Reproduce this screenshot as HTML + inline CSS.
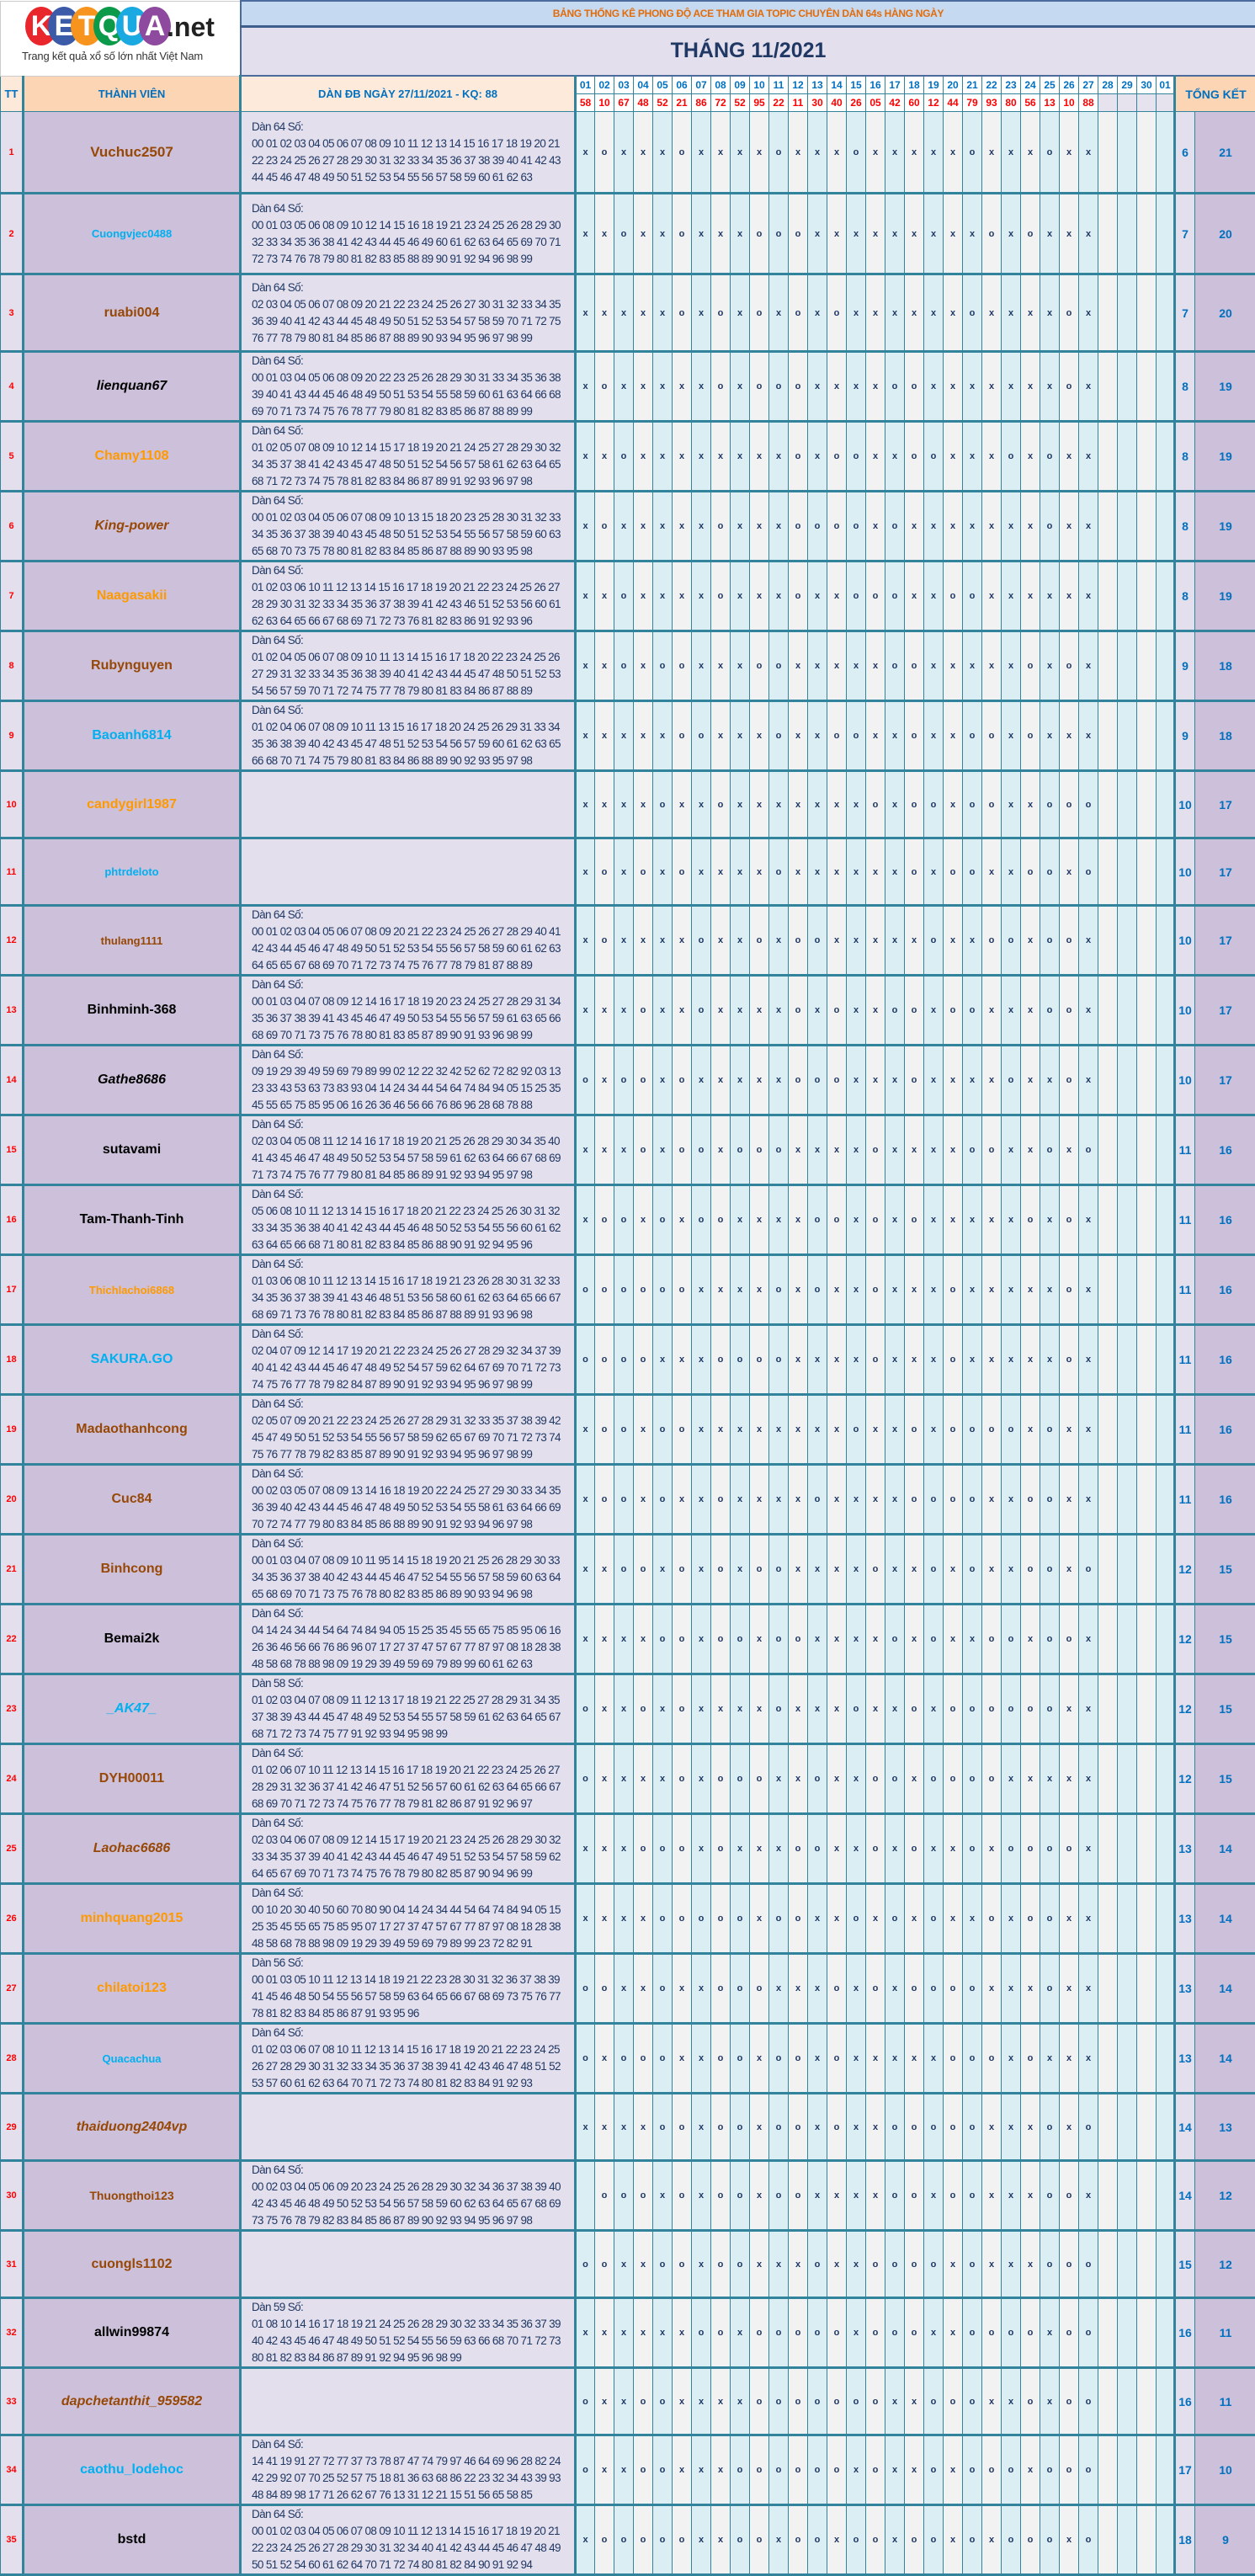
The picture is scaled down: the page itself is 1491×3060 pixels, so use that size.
<!DOCTYPE html>
<html><head><meta charset="utf-8">
<style>
body{margin:0;width:1491px;height:2977px;overflow:hidden;background:#fff;font-family:"Liberation Sans",sans-serif;position:relative}
table{border-collapse:collapse;table-layout:fixed;width:1491px;position:absolute;left:0;top:0}
td{border:1px solid #31849b;padding:0;text-align:center;overflow:hidden;white-space:nowrap;vertical-align:middle}
.top{background:#c5d9f1;color:#e26b0a;font-size:12px;font-weight:bold;letter-spacing:-0.3px;border:2px solid #4a6b9c;border-bottom:3px solid #3e5f8e}
.ttl{background:#e4dfec;color:#1f3864;font-size:25px;font-weight:bold;border:2px solid #4a6b9c;border-top:none}
.logo{background:#fff;border:1px solid #ccc;border-right:2px solid #4a6b9c}
.h{color:#0070c0;font-size:13px;font-weight:bold}
.ht{background:#fde9d9}.hn{background:#fcd5b4}.hd{background:#fdeada}
.dy{background:#fff;color:#0070c0;font-size:12px;font-weight:bold;height:20px}
.kq{background:#fff;color:#f00;font-size:12px;font-weight:bold}
.kq.e{background:#e6e3ee}
.tk{background:#fcd5b4;color:#0070c0;font-size:14px;font-weight:bold;border-left:3px solid #31849b}
tr.r td{border-bottom:3px solid #31849b;font-size:11px;font-weight:bold;color:#1f3864}
tr.r td:nth-child(even){background:#daeef3}
tr.r td:nth-child(odd){background:#f2f2f2}
tr.r td.t{background:#e4dfec;color:#f00;font-size:11px}
tr.r td.n{background:#ccc0da;border-left:3px solid #31849b;font-size:16px;font-weight:bold}
tr.r td.dn{background:#e4dfec;border-left:3px solid #31849b;text-align:left;padding-left:12px;font-size:13.5px;font-weight:normal;letter-spacing:-0.65px;line-height:20px;color:#1f3864}
tr.r td.f{border-left:3px solid #31849b}
tr.r td.a{background:#e4dfec;color:#0070c0;font-size:14px;border-left:3px solid #31849b}
tr.r td.b{background:#ccc0da;color:#0070c0;font-size:14px}
tr.r td.br{color:#974806}tr.r td.or{color:#ff9900}tr.r td.bl{color:#00b0f0}tr.r td.bk{color:#000}tr.r td.i{font-style:italic}
tr.r td.s13{font-size:13px}tr.r td.s14{font-size:14px}tr.r td.s17{font-size:17px}
.lg{position:absolute;left:0;top:0;width:285px;height:89px}
.c{position:absolute;top:8px;width:38px;height:46px;border-radius:50%;color:#fff;font-size:34px;font-weight:bold;text-align:center;line-height:46px}
</style></head><body>
<table>
<colgroup><col style="width:27px"><col style="width:258px"><col style="width:398px">
<col style="width:23px"><col style="width:23px"><col style="width:23px"><col style="width:23px"><col style="width:23px"><col style="width:23px"><col style="width:23px"><col style="width:23px"><col style="width:23px"><col style="width:23px"><col style="width:23px"><col style="width:23px"><col style="width:23px"><col style="width:23px"><col style="width:23px"><col style="width:23px"><col style="width:23px"><col style="width:23px"><col style="width:23px"><col style="width:23px"><col style="width:23px"><col style="width:23px"><col style="width:23px"><col style="width:23px"><col style="width:23px"><col style="width:23px"><col style="width:23px"><col style="width:23px"><col style="width:23px"><col style="width:23px"><col style="width:22px">
<col style="width:24px"><col style="width:73px"></colgroup>
<tr style="height:30px"><td class="logo" colspan="2" rowspan="2"></td><td class="top" colspan="34">BẢNG THỐNG KÊ PHONG ĐỘ ACE THAM GIA TOPIC CHUYÊN DÀN 64s HÀNG NGÀY</td></tr>
<tr style="height:59px"><td class="ttl" colspan="34">THÁNG 11/2021</td></tr>
<tr><td class="h ht" rowspan="2">TT</td><td class="h hn" rowspan="2" style="border-left:3px solid #31849b">THÀNH VIÊN</td><td class="h hd" rowspan="2" style="border-left:3px solid #31849b">DÀN ĐB NGÀY 27/11/2021 - KQ: 88</td>
<td class="dy" style="border-left:3px solid #31849b">01</td><td class="dy">02</td><td class="dy">03</td><td class="dy">04</td><td class="dy">05</td><td class="dy">06</td><td class="dy">07</td><td class="dy">08</td><td class="dy">09</td><td class="dy">10</td><td class="dy">11</td><td class="dy">12</td><td class="dy">13</td><td class="dy">14</td><td class="dy">15</td><td class="dy">16</td><td class="dy">17</td><td class="dy">18</td><td class="dy">19</td><td class="dy">20</td><td class="dy">21</td><td class="dy">22</td><td class="dy">23</td><td class="dy">24</td><td class="dy">25</td><td class="dy">26</td><td class="dy">27</td><td class="dy">28</td><td class="dy">29</td><td class="dy">30</td><td class="dy">01</td>
<td class="tk" colspan="2" rowspan="2">TỔNG KẾT</td></tr>
<tr style="height:21px"><td class="kq" style="border-left:3px solid #31849b">58</td><td class="kq">10</td><td class="kq">67</td><td class="kq">48</td><td class="kq">52</td><td class="kq">21</td><td class="kq">86</td><td class="kq">72</td><td class="kq">52</td><td class="kq">95</td><td class="kq">22</td><td class="kq">11</td><td class="kq">30</td><td class="kq">40</td><td class="kq">26</td><td class="kq">05</td><td class="kq">42</td><td class="kq">60</td><td class="kq">12</td><td class="kq">44</td><td class="kq">79</td><td class="kq">93</td><td class="kq">80</td><td class="kq">56</td><td class="kq">13</td><td class="kq">10</td><td class="kq">88</td><td class="kq e"></td><td class="kq e"></td><td class="kq e"></td><td class="kq e"></td></tr>

<tr class="r" style="height:97px"><td class="t">1<td class="n br s17">Vuchuc2507<td class="dn">Dàn 64 Số:<br>00 01 02 03 04 05 06 07 08 09 10 11 12 13 14 15 16 17 18 19 20 21<br>22 23 24 25 26 27 28 29 30 31 32 33 34 35 36 37 38 39 40 41 42 43<br>44 45 46 47 48 49 50 51 52 53 54 55 56 57 58 59 60 61 62 63<td class="f">x<td>o<td>x<td>x<td>x<td>o<td>x<td>x<td>x<td>x<td>o<td>x<td>x<td>x<td>o<td>x<td>x<td>x<td>x<td>x<td>o<td>x<td>x<td>x<td>o<td>x<td>x<td><td><td><td><td class="a">6<td class="b">21</tr>
<tr class="r" style="height:96px"><td class="t">2<td class="n bl s13">Cuongvjec0488<td class="dn">Dàn 64 Số:<br>00 01 03 05 06 08 09 10 12 14 15 16 18 19 21 23 24 25 26 28 29 30<br>32 33 34 35 36 38 41 42 43 44 45 46 49 60 61 62 63 64 65 69 70 71<br>72 73 74 76 78 79 80 81 82 83 85 88 89 90 91 92 94 96 98 99<td class="f">x<td>x<td>o<td>x<td>x<td>o<td>x<td>x<td>x<td>o<td>o<td>o<td>x<td>x<td>x<td>x<td>x<td>x<td>x<td>x<td>x<td>o<td>x<td>o<td>x<td>x<td>x<td><td><td><td><td class="a">7<td class="b">20</tr>
<tr class="r" style="height:92px"><td class="t">3<td class="n br">ruabi004<td class="dn">Dàn 64 Số:<br>02 03 04 05 06 07 08 09 20 21 22 23 24 25 26 27 30 31 32 33 34 35<br>36 39 40 41 42 43 44 45 48 49 50 51 52 53 54 57 58 59 70 71 72 75<br>76 77 78 79 80 81 84 85 86 87 88 89 90 93 94 95 96 97 98 99<td class="f">x<td>x<td>x<td>x<td>x<td>o<td>x<td>o<td>x<td>o<td>x<td>o<td>x<td>o<td>x<td>x<td>x<td>x<td>x<td>x<td>o<td>x<td>x<td>x<td>x<td>o<td>x<td><td><td><td><td class="a">7<td class="b">20</tr>
<tr class="r" style="height:80px"><td class="t">4<td class="n bk i">lienquan67<td class="dn">Dàn 64 Số:<br>00 01 03 04 05 06 08 09 20 22 23 25 26 28 29 30 31 33 34 35 36 38<br>39 40 41 43 44 45 46 48 49 50 51 53 54 55 58 59 60 61 63 64 66 68<br>69 70 71 73 74 75 76 78 77 79 80 81 82 83 85 86 87 88 89 99<td class="f">x<td>o<td>x<td>x<td>x<td>x<td>x<td>o<td>x<td>o<td>o<td>o<td>x<td>x<td>x<td>x<td>o<td>o<td>x<td>x<td>x<td>x<td>x<td>x<td>x<td>o<td>x<td><td><td><td><td class="a">8<td class="b">19</tr>
<tr class="r" style="height:80px"><td class="t">5<td class="n or">Chamy1108<td class="dn">Dàn 64 Số:<br>01 02 05 07 08 09 10 12 14 15 17 18 19 20 21 24 25 27 28 29 30 32<br>34 35 37 38 41 42 43 45 47 48 50 51 52 54 56 57 58 61 62 63 64 65<br>68 71 72 73 74 75 78 81 82 83 84 86 87 89 91 92 93 96 97 98<td class="f">x<td>x<td>o<td>x<td>x<td>x<td>x<td>x<td>x<td>x<td>x<td>o<td>x<td>o<td>o<td>x<td>x<td>o<td>o<td>x<td>x<td>x<td>o<td>x<td>o<td>x<td>x<td><td><td><td><td class="a">8<td class="b">19</tr>
<tr class="r" style="height:80px"><td class="t">6<td class="n br i">King-power<td class="dn">Dàn 64 Số:<br>00 01 02 03 04 05 06 07 08 09 10 13 15 18 20 23 25 28 30 31 32 33<br>34 35 36 37 38 39 40 43 45 48 50 51 52 53 54 55 56 57 58 59 60 63<br>65 68 70 73 75 78 80 81 82 83 84 85 86 87 88 89 90 93 95 98<td class="f">x<td>o<td>x<td>x<td>x<td>x<td>x<td>o<td>x<td>x<td>x<td>o<td>o<td>o<td>o<td>x<td>o<td>x<td>x<td>x<td>x<td>x<td>x<td>x<td>o<td>x<td>x<td><td><td><td><td class="a">8<td class="b">19</tr>
<tr class="r" style="height:80px"><td class="t">7<td class="n or">Naagasakii<td class="dn">Dàn 64 Số:<br>01 02 03 06 10 11 12 13 14 15 16 17 18 19 20 21 22 23 24 25 26 27<br>28 29 30 31 32 33 34 35 36 37 38 39 41 42 43 46 51 52 53 56 60 61<br>62 63 64 65 66 67 68 69 71 72 73 76 81 82 83 86 91 92 93 96<td class="f">x<td>x<td>o<td>x<td>x<td>x<td>x<td>o<td>x<td>x<td>x<td>o<td>x<td>x<td>o<td>o<td>o<td>x<td>x<td>o<td>o<td>x<td>x<td>x<td>x<td>x<td>x<td><td><td><td><td class="a">8<td class="b">19</tr>
<tr class="r" style="height:80px"><td class="t">8<td class="n br">Rubynguyen<td class="dn">Dàn 64 Số:<br>01 02 04 05 06 07 08 09 10 11 13 14 15 16 17 18 20 22 23 24 25 26<br>27 29 31 32 33 34 35 36 38 39 40 41 42 43 44 45 47 48 50 51 52 53<br>54 56 57 59 70 71 72 74 75 77 78 79 80 81 83 84 86 87 88 89<td class="f">x<td>x<td>o<td>x<td>o<td>o<td>x<td>x<td>x<td>o<td>o<td>x<td>x<td>x<td>x<td>x<td>o<td>o<td>x<td>x<td>x<td>x<td>x<td>o<td>x<td>o<td>x<td><td><td><td><td class="a">9<td class="b">18</tr>
<tr class="r" style="height:80px"><td class="t">9<td class="n bl">Baoanh6814<td class="dn">Dàn 64 Số:<br>01 02 04 06 07 08 09 10 11 13 15 16 17 18 20 24 25 26 29 31 33 34<br>35 36 38 39 40 42 43 45 47 48 51 52 53 54 56 57 59 60 61 62 63 65<br>66 68 70 71 74 75 79 80 81 83 84 86 88 89 90 92 93 95 97 98<td class="f">x<td>x<td>x<td>x<td>x<td>o<td>o<td>x<td>x<td>x<td>o<td>x<td>x<td>o<td>o<td>x<td>x<td>o<td>x<td>x<td>o<td>o<td>x<td>o<td>x<td>x<td>x<td><td><td><td><td class="a">9<td class="b">18</tr>
<tr class="r" style="height:80px"><td class="t">10<td class="n or">candygirl1987<td class="dn"><td class="f">x<td>x<td>x<td>x<td>o<td>x<td>x<td>o<td>x<td>x<td>x<td>x<td>x<td>x<td>x<td>o<td>x<td>o<td>o<td>x<td>o<td>o<td>x<td>x<td>o<td>o<td>o<td><td><td><td><td class="a">10<td class="b">17</tr>
<tr class="r" style="height:80px"><td class="t">11<td class="n bl s13">phtrdeloto<td class="dn"><td class="f">x<td>o<td>x<td>o<td>x<td>o<td>x<td>x<td>x<td>x<td>o<td>x<td>x<td>x<td>x<td>x<td>x<td>o<td>x<td>o<td>o<td>x<td>x<td>o<td>o<td>x<td>o<td><td><td><td><td class="a">10<td class="b">17</tr>
<tr class="r" style="height:80px"><td class="t">12<td class="n br s13">thulang1111<td class="dn">Dàn 64 Số:<br>00 01 02 03 04 05 06 07 08 09 20 21 22 23 24 25 26 27 28 29 40 41<br>42 43 44 45 46 47 48 49 50 51 52 53 54 55 56 57 58 59 60 61 62 63<br>64 65 65 67 68 69 70 71 72 73 74 75 76 77 78 79 81 87 88 89<td class="f">x<td>o<td>x<td>x<td>x<td>x<td>o<td>x<td>x<td>o<td>x<td>o<td>o<td>x<td>x<td>x<td>x<td>x<td>o<td>x<td>x<td>o<td>o<td>x<td>o<td>o<td>x<td><td><td><td><td class="a">10<td class="b">17</tr>
<tr class="r" style="height:80px"><td class="t">13<td class="n bk">Binhminh-368<td class="dn">Dàn 64 Số:<br>00 01 03 04 07 08 09 12 14 16 17 18 19 20 23 24 25 27 28 29 31 34<br>35 36 37 38 39 41 43 45 46 47 49 50 53 54 55 56 57 59 61 63 65 66<br>68 69 70 71 73 75 76 78 80 81 83 85 87 89 90 91 93 96 98 99<td class="f">x<td>x<td>x<td>o<td>x<td>x<td>o<td>x<td>x<td>x<td>x<td>o<td>x<td>o<td>x<td>x<td>o<td>o<td>x<td>o<td>o<td>x<td>x<td>x<td>o<td>o<td>x<td><td><td><td><td class="a">10<td class="b">17</tr>
<tr class="r" style="height:80px"><td class="t">14<td class="n bk i">Gathe8686<td class="dn">Dàn 64 Số:<br>09 19 29 39 49 59 69 79 89 99 02 12 22 32 42 52 62 72 82 92 03 13<br>23 33 43 53 63 73 83 93 04 14 24 34 44 54 64 74 84 94 05 15 25 35<br>45 55 65 75 85 95 06 16 26 36 46 56 66 76 86 96 28 68 78 88<td class="f">o<td>x<td>o<td>o<td>x<td>o<td>x<td>x<td>x<td>x<td>x<td>o<td>o<td>o<td>x<td>x<td>x<td>o<td>x<td>x<td>x<td>x<td>o<td>x<td>x<td>o<td>x<td><td><td><td><td class="a">10<td class="b">17</tr>
<tr class="r" style="height:80px"><td class="t">15<td class="n bk">sutavami<td class="dn">Dàn 64 Số:<br>02 03 04 05 08 11 12 14 16 17 18 19 20 21 25 26 28 29 30 34 35 40<br>41 43 45 46 47 48 49 50 52 53 54 57 58 59 61 62 63 64 66 67 68 69<br>71 73 74 75 76 77 79 80 81 84 85 86 89 91 92 93 94 95 97 98<td class="f">x<td>x<td>x<td>o<td>x<td>o<td>o<td>x<td>o<td>o<td>o<td>x<td>x<td>x<td>x<td>o<td>x<td>x<td>x<td>x<td>o<td>o<td>x<td>x<td>o<td>x<td>o<td><td><td><td><td class="a">11<td class="b">16</tr>
<tr class="r" style="height:80px"><td class="t">16<td class="n bk">Tam-Thanh-Tinh<td class="dn">Dàn 64 Số:<br>05 06 08 10 11 12 13 14 15 16 17 18 20 21 22 23 24 25 26 30 31 32<br>33 34 35 36 38 40 41 42 43 44 45 46 48 50 52 53 54 55 56 60 61 62<br>63 64 65 66 68 71 80 81 82 83 84 85 86 88 90 91 92 94 95 96<td class="f">x<td>o<td>o<td>x<td>o<td>x<td>o<td>o<td>x<td>x<td>x<td>x<td>o<td>o<td>x<td>o<td>x<td>o<td>x<td>x<td>x<td>x<td>x<td>o<td>x<td>o<td>x<td><td><td><td><td class="a">11<td class="b">16</tr>
<tr class="r" style="height:80px"><td class="t">17<td class="n or s13">Thichlachoi6868<td class="dn">Dàn 64 Số:<br>01 03 06 08 10 11 12 13 14 15 16 17 18 19 21 23 26 28 30 31 32 33<br>34 35 36 37 38 39 41 43 46 48 51 53 56 58 60 61 62 63 64 65 66 67<br>68 69 71 73 76 78 80 81 82 83 84 85 86 87 88 89 91 93 96 98<td class="f">o<td>o<td>o<td>o<td>o<td>o<td>x<td>x<td>x<td>x<td>o<td>x<td>o<td>x<td>x<td>o<td>x<td>x<td>x<td>o<td>x<td>x<td>x<td>x<td>x<td>o<td>x<td><td><td><td><td class="a">11<td class="b">16</tr>
<tr class="r" style="height:80px"><td class="t">18<td class="n bl">SAKURA.GO<td class="dn">Dàn 64 Số:<br>02 04 07 09 12 14 17 19 20 21 22 23 24 25 26 27 28 29 32 34 37 39<br>40 41 42 43 44 45 46 47 48 49 52 54 57 59 62 64 67 69 70 71 72 73<br>74 75 76 77 78 79 82 84 87 89 90 91 92 93 94 95 96 97 98 99<td class="f">o<td>o<td>o<td>o<td>x<td>x<td>x<td>o<td>o<td>o<td>o<td>x<td>x<td>x<td>x<td>o<td>x<td>x<td>x<td>o<td>x<td>x<td>x<td>x<td>x<td>o<td>x<td><td><td><td><td class="a">11<td class="b">16</tr>
<tr class="r" style="height:80px"><td class="t">19<td class="n br">Madaothanhcong<td class="dn">Dàn 64 Số:<br>02 05 07 09 20 21 22 23 24 25 26 27 28 29 31 32 33 35 37 38 39 42<br>45 47 49 50 51 52 53 54 55 56 57 58 59 62 65 67 69 70 71 72 73 74<br>75 76 77 78 79 82 83 85 87 89 90 91 92 93 94 95 96 97 98 99<td class="f">x<td>o<td>o<td>x<td>o<td>o<td>x<td>x<td>x<td>x<td>x<td>x<td>x<td>x<td>o<td>x<td>x<td>o<td>x<td>o<td>o<td>o<td>o<td>x<td>o<td>x<td>x<td><td><td><td><td class="a">11<td class="b">16</tr>
<tr class="r" style="height:80px"><td class="t">20<td class="n br">Cuc84<td class="dn">Dàn 64 Số:<br>00 02 03 05 07 08 09 13 14 16 18 19 20 22 24 25 27 29 30 33 34 35<br>36 39 40 42 43 44 45 46 47 48 49 50 52 53 54 55 58 61 63 64 66 69<br>70 72 74 77 79 80 83 84 85 86 88 89 90 91 92 93 94 96 97 98<td class="f">x<td>o<td>o<td>x<td>o<td>x<td>x<td>o<td>x<td>x<td>x<td>x<td>o<td>x<td>x<td>x<td>x<td>o<td>o<td>o<td>o<td>x<td>x<td>o<td>o<td>x<td>x<td><td><td><td><td class="a">11<td class="b">16</tr>
<tr class="r" style="height:80px"><td class="t">21<td class="n br">Binhcong<td class="dn">Dàn 64 Số:<br>00 01 03 04 07 08 09 10 11 95 14 15 18 19 20 21 25 26 28 29 30 33<br>34 35 36 37 38 40 42 43 44 45 46 47 52 54 55 56 57 58 59 60 63 64<br>65 68 69 70 71 73 75 76 78 80 82 83 85 86 89 90 93 94 96 98<td class="f">x<td>x<td>o<td>o<td>x<td>o<td>x<td>o<td>x<td>o<td>o<td>x<td>x<td>x<td>x<td>o<td>x<td>x<td>o<td>x<td>o<td>x<td>x<td>o<td>o<td>x<td>o<td><td><td><td><td class="a">12<td class="b">15</tr>
<tr class="r" style="height:80px"><td class="t">22<td class="n bk">Bemai2k<td class="dn">Dàn 64 Số:<br>04 14 24 34 44 54 64 74 84 94 05 15 25 35 45 55 65 75 85 95 06 16<br>26 36 46 56 66 76 86 96 07 17 27 37 47 57 67 77 87 97 08 18 28 38<br>48 58 68 78 88 98 09 19 29 39 49 59 69 79 89 99 60 61 62 63<td class="f">x<td>x<td>x<td>x<td>o<td>o<td>x<td>o<td>o<td>x<td>o<td>o<td>x<td>x<td>x<td>x<td>o<td>x<td>o<td>x<td>x<td>o<td>o<td>x<td>o<td>o<td>x<td><td><td><td><td class="a">12<td class="b">15</tr>
<tr class="r" style="height:80px"><td class="t">23<td class="n bl i">_AK47_<td class="dn">Dàn 58 Số:<br>01 02 03 04 07 08 09 11 12 13 17 18 19 21 22 25 27 28 29 31 34 35<br>37 38 39 43 44 45 47 48 49 52 53 54 55 57 58 59 61 62 63 64 65 67<br>68 71 72 73 74 75 77 91 92 93 94 95 98 99<td class="f">o<td>x<td>x<td>o<td>x<td>o<td>x<td>x<td>x<td>x<td>o<td>x<td>x<td>x<td>o<td>x<td>x<td>o<td>x<td>o<td>o<td>o<td>o<td>o<td>o<td>x<td>x<td><td><td><td><td class="a">12<td class="b">15</tr>
<tr class="r" style="height:80px"><td class="t">24<td class="n br">DYH00011<td class="dn">Dàn 64 Số:<br>01 02 06 07 10 11 12 13 14 15 16 17 18 19 20 21 22 23 24 25 26 27<br>28 29 31 32 36 37 41 42 46 47 51 52 56 57 60 61 62 63 64 65 66 67<br>68 69 70 71 72 73 74 75 76 77 78 79 81 82 86 87 91 92 96 97<td class="f">o<td>x<td>x<td>x<td>x<td>o<td>x<td>o<td>o<td>o<td>x<td>x<td>o<td>x<td>x<td>o<td>o<td>x<td>o<td>o<td>o<td>o<td>x<td>x<td>x<td>x<td>x<td><td><td><td><td class="a">12<td class="b">15</tr>
<tr class="r" style="height:80px"><td class="t">25<td class="n br i">Laohac6686<td class="dn">Dàn 64 Số:<br>02 03 04 06 07 08 09 12 14 15 17 19 20 21 23 24 25 26 28 29 30 32<br>33 34 35 37 39 40 41 42 43 44 45 46 47 49 51 52 53 54 57 58 59 62<br>64 65 67 69 70 71 73 74 75 76 78 79 80 82 85 87 90 94 96 99<td class="f">x<td>x<td>x<td>o<td>o<td>o<td>x<td>o<td>x<td>x<td>x<td>o<td>o<td>x<td>x<td>o<td>x<td>o<td>x<td>x<td>o<td>x<td>o<td>o<td>o<td>o<td>x<td><td><td><td><td class="a">13<td class="b">14</tr>
<tr class="r" style="height:80px"><td class="t">26<td class="n or">minhquang2015<td class="dn">Dàn 64 Số:<br>00 10 20 30 40 50 60 70 80 90 04 14 24 34 44 54 64 74 84 94 05 15<br>25 35 45 55 65 75 85 95 07 17 27 37 47 57 67 77 87 97 08 18 28 38<br>48 58 68 78 88 98 09 19 29 39 49 59 69 79 89 99 23 72 82 91<td class="f">x<td>x<td>x<td>x<td>o<td>o<td>o<td>o<td>o<td>x<td>o<td>o<td>x<td>x<td>o<td>x<td>o<td>x<td>o<td>x<td>x<td>o<td>x<td>o<td>o<td>x<td>x<td><td><td><td><td class="a">13<td class="b">14</tr>
<tr class="r" style="height:80px"><td class="t">27<td class="n or">chilatoi123<td class="dn">Dàn 56 Số:<br>00 01 03 05 10 11 12 13 14 18 19 21 22 23 28 30 31 32 36 37 38 39<br>41 45 46 48 50 54 55 56 57 58 59 63 64 65 66 67 68 69 73 75 76 77<br>78 81 82 83 84 85 86 87 91 93 95 96<td class="f">o<td>o<td>x<td>x<td>o<td>x<td>x<td>o<td>o<td>o<td>x<td>x<td>x<td>o<td>x<td>o<td>x<td>o<td>o<td>o<td>o<td>x<td>x<td>x<td>o<td>x<td>x<td><td><td><td><td class="a">13<td class="b">14</tr>
<tr class="r" style="height:80px"><td class="t">28<td class="n bl s13">Quacachua<td class="dn">Dàn 64 Số:<br>01 02 03 06 07 08 10 11 12 13 14 15 16 17 18 19 20 21 22 23 24 25<br>26 27 28 29 30 31 32 33 34 35 36 37 38 39 41 42 43 46 47 48 51 52<br>53 57 60 61 62 63 64 70 71 72 73 74 80 81 82 83 84 91 92 93<td class="f">o<td>x<td>o<td>o<td>o<td>x<td>x<td>o<td>o<td>x<td>o<td>o<td>x<td>o<td>x<td>x<td>x<td>x<td>x<td>o<td>o<td>o<td>x<td>o<td>x<td>x<td>x<td><td><td><td><td class="a">13<td class="b">14</tr>
<tr class="r" style="height:80px"><td class="t">29<td class="n br i">thaiduong2404vp<td class="dn"><td class="f">x<td>x<td>x<td>x<td>o<td>o<td>x<td>o<td>o<td>x<td>o<td>o<td>x<td>o<td>x<td>x<td>o<td>o<td>o<td>o<td>o<td>x<td>x<td>x<td>o<td>x<td>o<td><td><td><td><td class="a">14<td class="b">13</tr>
<tr class="r" style="height:80px"><td class="t">30<td class="n br s14">Thuongthoi123<td class="dn">Dàn 64 Số:<br>00 02 03 04 05 06 09 20 23 24 25 26 28 29 30 32 34 36 37 38 39 40<br>42 43 45 46 48 49 50 52 53 54 56 57 58 59 60 62 63 64 65 67 68 69<br>73 75 76 78 79 82 83 84 85 86 87 89 90 92 93 94 95 96 97 98<td class="f"><td>o<td>o<td>o<td>x<td>o<td>x<td>o<td>o<td>x<td>o<td>o<td>x<td>x<td>x<td>x<td>o<td>o<td>x<td>o<td>o<td>x<td>x<td>x<td>o<td>o<td>x<td><td><td><td><td class="a">14<td class="b">12</tr>
<tr class="r" style="height:80px"><td class="t">31<td class="n br">cuongls1102<td class="dn"><td class="f">o<td>o<td>x<td>x<td>o<td>o<td>x<td>o<td>o<td>x<td>x<td>x<td>o<td>x<td>x<td>o<td>o<td>o<td>o<td>x<td>o<td>x<td>x<td>x<td>o<td>o<td>o<td><td><td><td><td class="a">15<td class="b">12</tr>
<tr class="r" style="height:80px"><td class="t">32<td class="n bk">allwin99874<td class="dn">Dàn 59 Số:<br>01 08 10 14 16 17 18 19 21 24 25 26 28 29 30 32 33 34 35 36 37 39<br>40 42 43 45 46 47 48 49 50 51 52 54 55 56 59 63 66 68 70 71 72 73<br>80 81 82 83 84 86 87 89 91 92 94 95 96 98 99<td class="f">x<td>x<td>x<td>x<td>x<td>x<td>o<td>o<td>x<td>o<td>o<td>o<td>o<td>o<td>x<td>o<td>o<td>o<td>x<td>x<td>o<td>o<td>o<td>o<td>x<td>o<td>o<td><td><td><td><td class="a">16<td class="b">11</tr>
<tr class="r" style="height:80px"><td class="t">33<td class="n br i">dapchetanthit_959582<td class="dn"><td class="f">o<td>x<td>x<td>o<td>o<td>x<td>x<td>x<td>x<td>o<td>o<td>o<td>o<td>o<td>o<td>o<td>x<td>x<td>o<td>o<td>o<td>x<td>x<td>o<td>x<td>o<td>o<td><td><td><td><td class="a">16<td class="b">11</tr>
<tr class="r" style="height:80px"><td class="t">34<td class="n bl">caothu_lodehoc<td class="dn">Dàn 64 Số:<br>14 41 19 91 27 72 77 37 73 78 87 47 74 79 97 46 64 69 96 28 82 24<br>42 29 92 07 70 25 52 57 75 18 81 36 63 68 86 22 23 32 34 43 39 93<br>48 84 89 98 17 71 26 62 67 76 13 31 12 21 15 51 56 65 58 85<td class="f">o<td>x<td>x<td>o<td>o<td>x<td>x<td>x<td>o<td>o<td>o<td>o<td>o<td>o<td>x<td>o<td>x<td>x<td>o<td>x<td>o<td>o<td>o<td>x<td>o<td>o<td>o<td><td><td><td><td class="a">17<td class="b">10</tr>
<tr class="r" style="height:80px"><td class="t">35<td class="n bk">bstd<td class="dn">Dàn 64 Số:<br>00 01 02 03 04 05 06 07 08 09 10 11 12 13 14 15 16 17 18 19 20 21<br>22 23 24 25 26 27 28 29 30 31 32 34 40 41 42 43 44 45 46 47 48 49<br>50 51 52 54 60 61 62 64 70 71 72 74 80 81 82 84 90 91 92 94<td class="f">x<td>o<td>o<td>o<td>o<td>o<td>x<td>x<td>o<td>o<td>x<td>o<td>o<td>x<td>o<td>o<td>x<td>o<td>o<td>x<td>o<td>x<td>o<td>o<td>o<td>x<td>o<td><td><td><td><td class="a">18<td class="b">9</tr>
</table>

<div class="lg">
<div class="c" style="left:30px;background:#e8262b">K</div>
<div class="c" style="left:57px;background:#3b5ba9">E</div>
<div class="c" style="left:84px;background:#f7941d">T</div>
<div class="c" style="left:111px;background:#0a9a4a">Q</div>
<div class="c" style="left:138px;background:#1aa9e0">U</div>
<div class="c" style="left:165px;background:#8e4a9e">A</div>
<div style="position:absolute;left:198px;top:14px;font-size:32px;font-weight:bold;color:#222">.net</div>
<div style="position:absolute;left:26px;top:59px;font-size:13px;color:#333;letter-spacing:-0.2px">Trang kết quả xổ số lớn nhất Việt Nam</div>
</div>
</body></html>
